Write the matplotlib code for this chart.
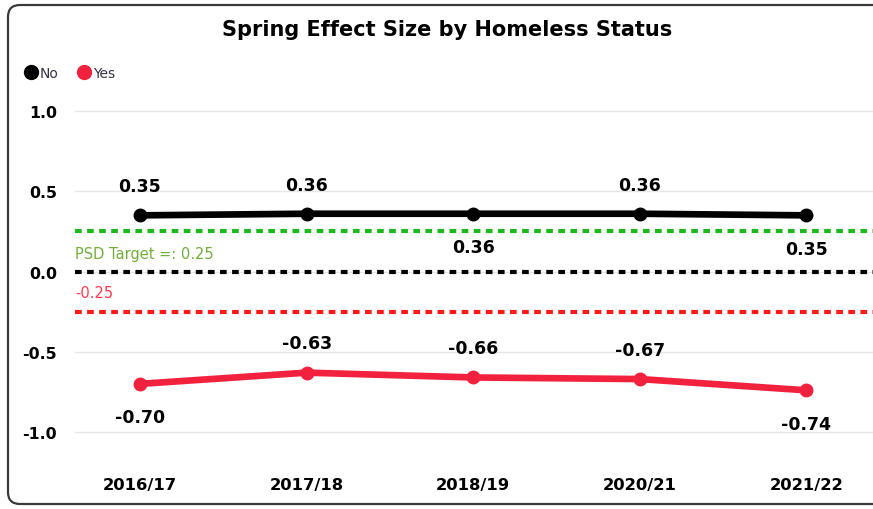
import matplotlib.pyplot as plt
import matplotlib.transforms as mtransforms
from matplotlib.lines import Line2D
from matplotlib.patches import FancyBboxPatch

years = ["2016/17", "2017/18", "2018/19", "2020/21", "2021/22"]
no_vals = [0.35, 0.36, 0.36, 0.36, 0.35]
yes_vals = [-0.70, -0.63, -0.66, -0.67, -0.74]
# label placement per point: +1 above, -1 below
no_side = [1, 1, -1, 1, -1]
yes_side = [-1, 1, 1, 1, -1]
target_hi = 0.25
target_lo = -0.25
yticks = [1.0, 0.5, 0.0, -0.5, -1.0]

BLACK = "#000000"
RED = "#F2213E"
GREEN = "#1DB81D"
LINE_RED = "#FF1A1A"

plt.rcParams["font.family"] = ["DejaVu Sans"]

fig = plt.figure(figsize=(8.73, 5.10), dpi=100)
fig.patch.set_facecolor("white")

# card outline
card = FancyBboxPatch((8, 5), 880, 499, boxstyle="round,pad=0,rounding_size=12",
                      transform=None, facecolor="none", edgecolor="#3a3a3a",
                      linewidth=1.6, clip_on=False)
fig.patches.append(card)

ax = fig.add_axes([75 / 873, 1 - 460 / 510, 1 - 75 / 873, 365 / 510])
x = list(range(len(years)))

ax.set_xlim(-0.39, 4.40)
ax.set_ylim(-1.168, 1.106)
ax.set_yticks(yticks)
ax.set_yticklabels([f"{v:.1f}" for v in yticks], fontsize=11.3, fontweight="bold")
ax.set_xticks(x)
ax.set_xticklabels(years, fontsize=11.8, fontweight="bold")
ax.tick_params(axis="both", length=0)
ax.tick_params(axis="y", pad=13)
ax.tick_params(axis="x", pad=13)
for s in ax.spines.values():
    s.set_visible(False)
ax.grid(axis="y", color="#E6E6E6", linewidth=1)
ax.set_axisbelow(True)

dash = (1.6, 1.3)
ax.axhline(target_hi, color=GREEN, lw=3, ls=(0, dash), zorder=2)
ax.axhline(0.0, color=BLACK, lw=3, ls=(0, dash), zorder=2)
ax.axhline(target_lo, color=LINE_RED, lw=3, ls=(0, dash), zorder=2)

trans = mtransforms.blended_transform_factory(ax.transAxes, ax.transData)
ax.annotate(f"PSD Target =: {target_hi:.2f}", xy=(0, target_hi), xycoords=trans,
            xytext=(0, -16), textcoords="offset points", va="center", ha="left",
            fontsize=10.5, color="#72AE3A")
ax.annotate(f"{target_lo:.2f}", xy=(0, target_lo), xycoords=trans,
            xytext=(0, 14), textcoords="offset points", va="center", ha="left",
            fontsize=10.5, color="#FF3B4E")

ax.plot(x, no_vals, color=BLACK, lw=4.8, marker="o", ms=9, zorder=4,
        solid_capstyle="round")
ax.plot(x, yes_vals, color=RED, lw=4.8, marker="o", ms=9, zorder=4,
        solid_capstyle="round")

for vals, sides in ((no_vals, no_side), (yes_vals, yes_side)):
    for xi, v, s in zip(x, vals, sides):
        dy = 21 if s > 0 else -24
        ax.annotate(f"{v:.2f}", xy=(xi, v), xytext=(0, dy), textcoords="offset points",
                    ha="center", va="center", fontsize=12.5, fontweight="bold",
                    color=BLACK)

fig.text(447 / 873, 1 - 30 / 510, "Spring Effect Size by Homeless Status",
         ha="center", va="center", fontsize=15, fontweight="bold")

handles = [
    Line2D([], [], ls="none", marker="o", ms=10, color=BLACK, label="No"),
    Line2D([], [], ls="none", marker="o", ms=10, color=RED, label="Yes"),
]
leg = fig.legend(handles=handles, loc="center left", bbox_to_anchor=(24 / 873, 1 - 74 / 510),
                 ncol=2, frameon=False, handlelength=1.0, handletextpad=0.15,
                 columnspacing=1.3, borderaxespad=0, borderpad=0,
                 prop={"size": 10})
for t in leg.get_texts():
    t.set_color("#333344")

fig.savefig("out.png", dpi=100, facecolor="white")
